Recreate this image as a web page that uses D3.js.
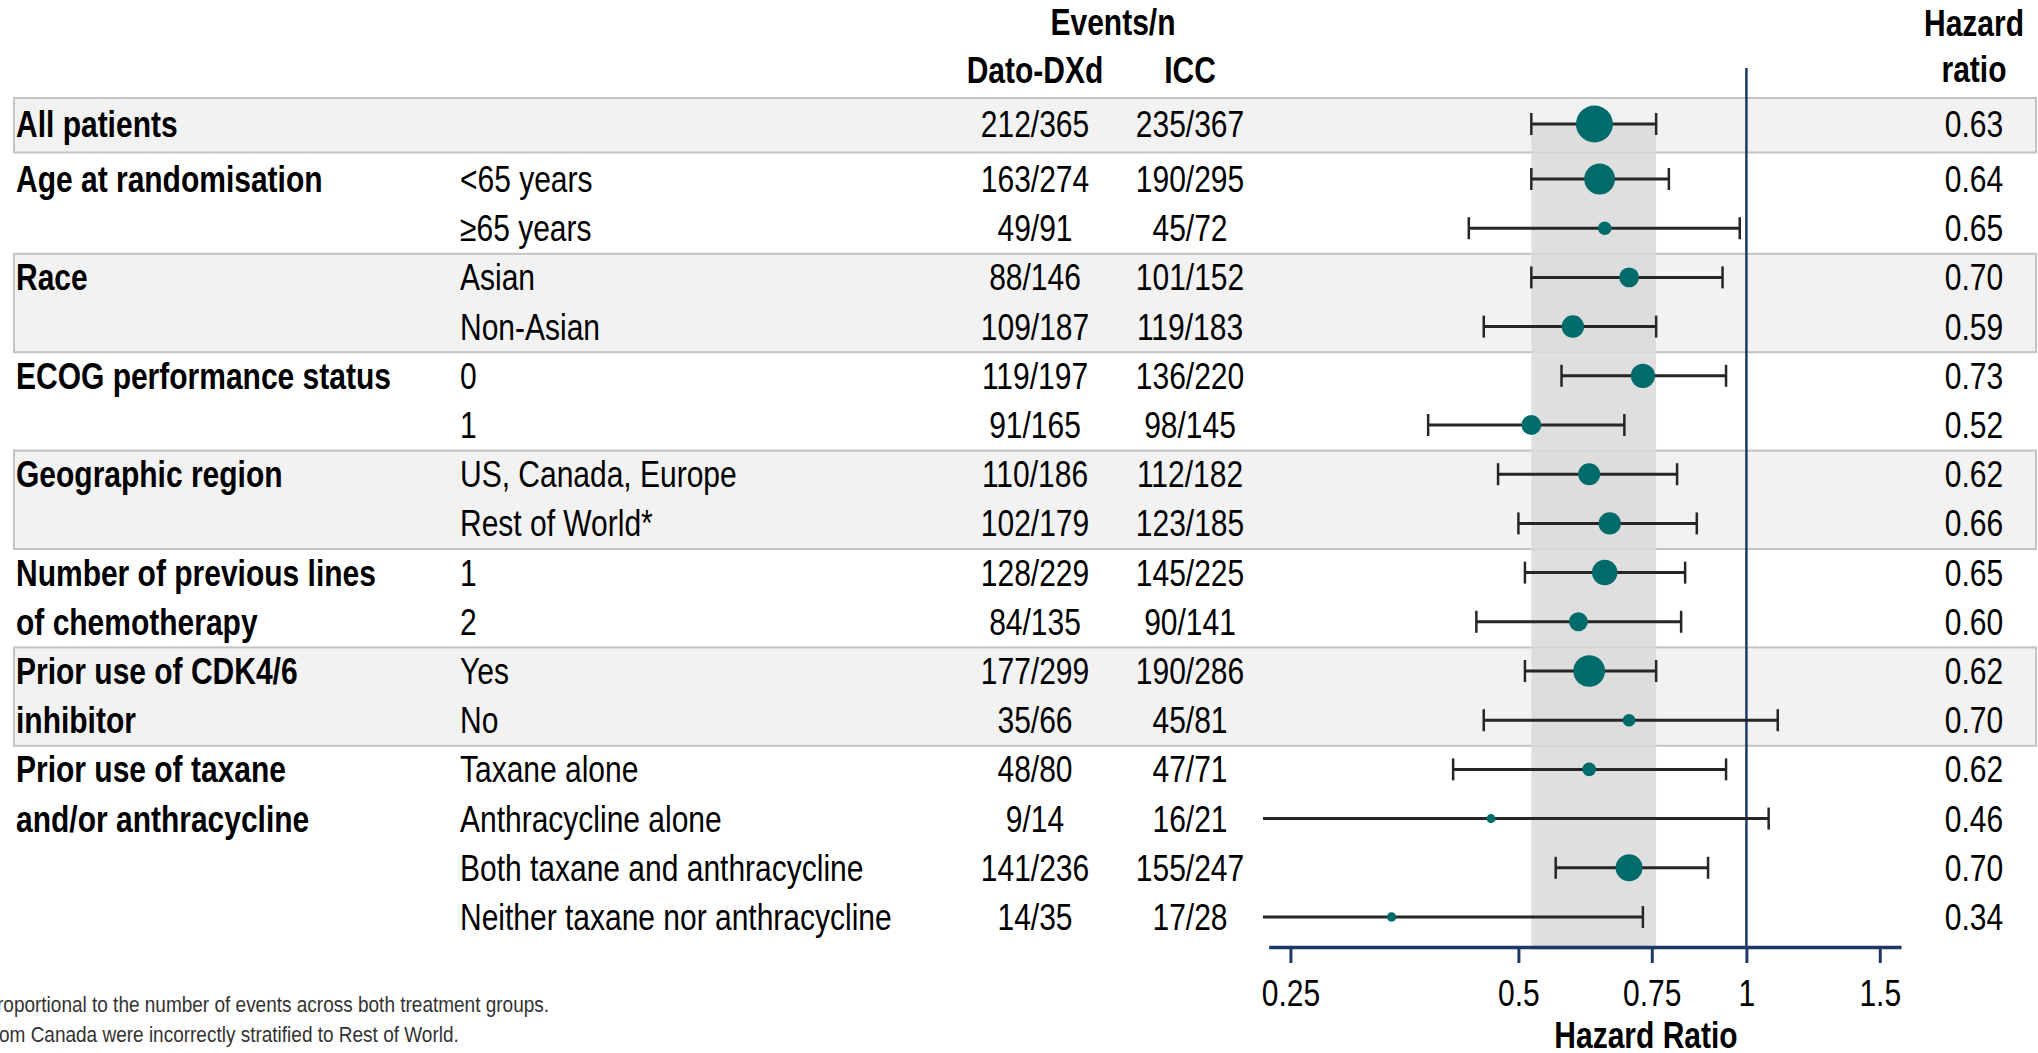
<!DOCTYPE html>
<html>
<head>
<meta charset="utf-8">
<script src="https://cdn.jsdelivr.net/npm/d3@7"></script>
<style>
  html, body { margin: 0; padding: 0; background: #ffffff; }
  svg { display: block; }
  text { font-family: "Liberation Sans", Arial, sans-serif; fill: #000; }
</style>
</head>
<body>
<svg id="chart" width="2038" height="1053"></svg>
<script>
// Subgroup forest plot: hazard ratio (95% CI) by subgroup, Dato-DXd vs ICC

const groupLabels = [
  ["All patients"],
  ["Age at randomisation"],
  ["Race"],
  ["ECOG performance status"],
  ["Geographic region"],
  ["Number of previous lines", "of chemotherapy"],
  ["Prior use of CDK4/6", "inhibitor"],
  ["Prior use of taxane", "and/or anthracycline"]
];
const groupShaded = [true, false, true, false, true, false, true, false];

// group index of each row
const rowGroup = [0, 1, 1, 2, 2, 3, 3, 4, 4, 5, 5, 6, 6, 7, 7, 7, 7];
const subgroups = [
  "", "<65 years", "≥65 years", "Asian", "Non-Asian", "0", "1",
  "US, Canada, Europe", "Rest of World*", "1", "2", "Yes", "No",
  "Taxane alone", "Anthracycline alone", "Both taxane and anthracycline",
  "Neither taxane nor anthracycline"
];
const datoEvents = ["212/365", "163/274", "49/91", "88/146", "109/187", "119/197", "91/165",
  "110/186", "102/179", "128/229", "84/135", "177/299", "35/66", "48/80", "9/14", "141/236", "14/35"];
const iccEvents = ["235/367", "190/295", "45/72", "101/152", "119/183", "136/220", "98/145",
  "112/182", "123/185", "145/225", "90/141", "190/286", "45/81", "47/71", "16/21", "155/247", "17/28"];
const hazardRatio = [0.63, 0.64, 0.65, 0.70, 0.59, 0.73, 0.52, 0.62, 0.66, 0.65, 0.60, 0.62, 0.70, 0.62, 0.46, 0.70, 0.34];
const ciLower = [0.52, 0.52, 0.43, 0.52, 0.45, 0.57, 0.38, 0.47, 0.50, 0.51, 0.44, 0.51, 0.45, 0.41, 0.17, 0.56, 0.16];
const ciUpper = [0.76, 0.79, 0.98, 0.93, 0.76, 0.94, 0.69, 0.81, 0.86, 0.83, 0.82, 0.76, 1.10, 0.94, 1.07, 0.89, 0.73];

const tickValues = [0.25, 0.5, 0.75, 1, 1.5];
const tickLabels = ["0.25", "0.5", "0.75", "1", "1.5"];

const footnotes = [
  "roportional  to the  number of events  across both  treatment  groups.",
  "om Canada  were incorrectly  stratified  to Rest of World."
];

// ---- layout ----
const fs = 30;          // base font size
const SY = 1.21;        // vertical stretch giving the condensed look
const boxLeft = 14, boxRight = 2036;
const colGroup = 16, colSub = 460, colDato = 1035, colIcc = 1190, colHR = 1974;
const axisY = 947;

const svg = d3.select("#chart");
const at = (px, py) => `translate(${px},${py}) scale(1,${SY})`;

const rows = subgroups.map((s, i) => {
  const [ev1] = datoEvents[i].split("/").map(Number);
  const [ev2] = iccEvents[i].split("/").map(Number);
  return { i, group: rowGroup[i], sub: s, dato: datoEvents[i], icc: iccEvents[i],
    hr: hazardRatio[i], lo: ciLower[i], hi: ciUpper[i], events: ev1 + ev2 };
});

// vertical placement: overall row on its own, subgroup rows evenly spaced below
const yRows = d3.scaleLinear().domain([1, rows.length - 1]).range([179, 917]);
const rowY = i => (i === 0 ? 124 : yRows(i));
const baseY = i => rowY(i) + 13;

// hazard ratio scale (log)
const x = d3.scaleLog().domain([0.23, 1.6]).range([1263, 1901]);
const xc = x.copy().clamp(true);
const r = d3.scaleLinear().domain([25, 447]).range([4.5, 18.5]);

// ---- group boxes ----
const groups = groupLabels.map((lab, g) => {
  const idx = rows.filter(d => d.group === g).map(d => d.i);
  const first = d3.min(idx), last = d3.max(idx);
  const top = first === 0 ? 98 : (rowY(first - 1) + rowY(first)) / 2 + 1;
  const bottom = last === rows.length - 1 ? rowY(last) + 25 : (rowY(last) + rowY(last + 1)) / 2 + 1;
  return { g, lab, first, top, bottom, shaded: groupShaded[g] };
});

svg.append("g").selectAll("rect")
  .data(groups.filter(d => d.shaded))
  .join("rect")
  .attr("x", boxLeft).attr("width", boxRight - boxLeft)
  .attr("y", d => d.top).attr("height", d => d.bottom - d.top)
  .attr("fill", "#f2f2f2").attr("stroke", "#c3c3c3").attr("stroke-width", 2);

// reference band: overall 95% CI
svg.append("rect")
  .attr("x", x(ciLower[0])).attr("width", x(ciUpper[0]) - x(ciLower[0]))
  .attr("y", rowY(0)).attr("height", axisY + 3 - rowY(0))
  .attr("fill", "#d9d9d9").attr("opacity", 0.85);

// line of no effect
svg.append("line")
  .attr("x1", x(1)).attr("x2", x(1))
  .attr("y1", 68).attr("y2", axisY)
  .attr("stroke", "#1f3864").attr("stroke-width", 2.5);

// ---- headers ----
const hdr = svg.append("g").attr("font-weight", "bold").attr("text-anchor", "middle")
  .style("font-size", fs + "px");
hdr.append("text").attr("transform", at(1113, 35)).text("Events/n");
hdr.append("text").attr("transform", at(colDato, 83)).text("Dato-DXd");
hdr.append("text").attr("transform", at(colIcc, 83)).text("ICC");
hdr.append("text").attr("transform", at(colHR, 36)).text("Hazard");
hdr.append("text").attr("transform", at(colHR, 82)).text("ratio");

// ---- table text ----
const gl = svg.append("g").attr("font-weight", "bold").style("font-size", fs + "px");
groups.forEach(gr => {
  gr.lab.forEach((line, k) => {
    gl.append("text").attr("transform", at(colGroup, baseY(gr.first + k))).text(line);
  });
});

const tbl = svg.append("g").style("font-size", fs + "px");
tbl.selectAll("text.sub").data(rows).join("text").attr("class", "sub")
  .attr("transform", d => at(colSub, baseY(d.i))).text(d => d.sub);
tbl.selectAll("text.dato").data(rows).join("text").attr("class", "dato")
  .attr("transform", d => at(colDato, baseY(d.i))).attr("text-anchor", "middle").text(d => d.dato);
tbl.selectAll("text.icc").data(rows).join("text").attr("class", "icc")
  .attr("transform", d => at(colIcc, baseY(d.i))).attr("text-anchor", "middle").text(d => d.icc);
tbl.selectAll("text.hr").data(rows).join("text").attr("class", "hr")
  .attr("transform", d => at(colHR, baseY(d.i))).attr("text-anchor", "middle")
  .text(d => d3.format(".2f")(d.hr));

// ---- confidence intervals and point estimates ----
const ci = svg.append("g").attr("stroke", "#262626");
ci.selectAll("line.ci").data(rows).join("line").attr("class", "ci")
  .attr("x1", d => xc(d.lo)).attr("x2", d => xc(d.hi))
  .attr("y1", d => rowY(d.i)).attr("y2", d => rowY(d.i))
  .attr("stroke-width", 3);
const caps = rows.flatMap(d => [d.lo, d.hi]
  .filter(v => v >= x.domain()[0] && v <= x.domain()[1])
  .map(v => ({ v, y: rowY(d.i) })));
ci.selectAll("line.cap").data(caps).join("line").attr("class", "cap")
  .attr("x1", d => x(d.v)).attr("x2", d => x(d.v))
  .attr("y1", d => d.y - 11).attr("y2", d => d.y + 11)
  .attr("stroke-width", 2.5);

svg.append("g").selectAll("circle").data(rows).join("circle")
  .attr("cx", d => x(d.hr)).attr("cy", d => rowY(d.i)).attr("r", d => r(d.events))
  .attr("fill", "#006b6b");

// ---- axis ----
const axisScale = x.copy().domain([0.234, 1.6]).range([x(0.234), x(1.6)]);
const axis = svg.append("g").attr("transform", `translate(0,${axisY})`)
  .call(d3.axisBottom(axisScale).tickValues(tickValues)
    .tickFormat((d, i) => tickLabels[i]).tickSize(16).tickSizeOuter(0).tickPadding(0));
axis.select(".domain").attr("stroke", "#1f3864").attr("stroke-width", 3.5);
axis.selectAll(".tick line").attr("stroke", "#1f3864").attr("stroke-width", 3);
axis.selectAll(".tick text")
  .attr("y", null).attr("dy", null)
  .attr("transform", at(0, 59))
  .attr("fill", "#000")
  .style("font-family", "\"Liberation Sans\", Arial, sans-serif")
  .style("font-size", fs + "px");

svg.append("text").attr("transform", at(1646, 1048)).attr("text-anchor", "middle")
  .attr("font-weight", "bold").style("font-size", fs + "px").text("Hazard Ratio");

// ---- footnotes ----
svg.append("g").style("font-size", "19px")
  .selectAll("text").data(footnotes).join("text")
  .attr("transform", (d, i) => at(i === 0 ? -3 : -1, 1012 + i * 30))
  .style("fill", "#333")
  .text(d => d);
</script>
</body>
</html>
